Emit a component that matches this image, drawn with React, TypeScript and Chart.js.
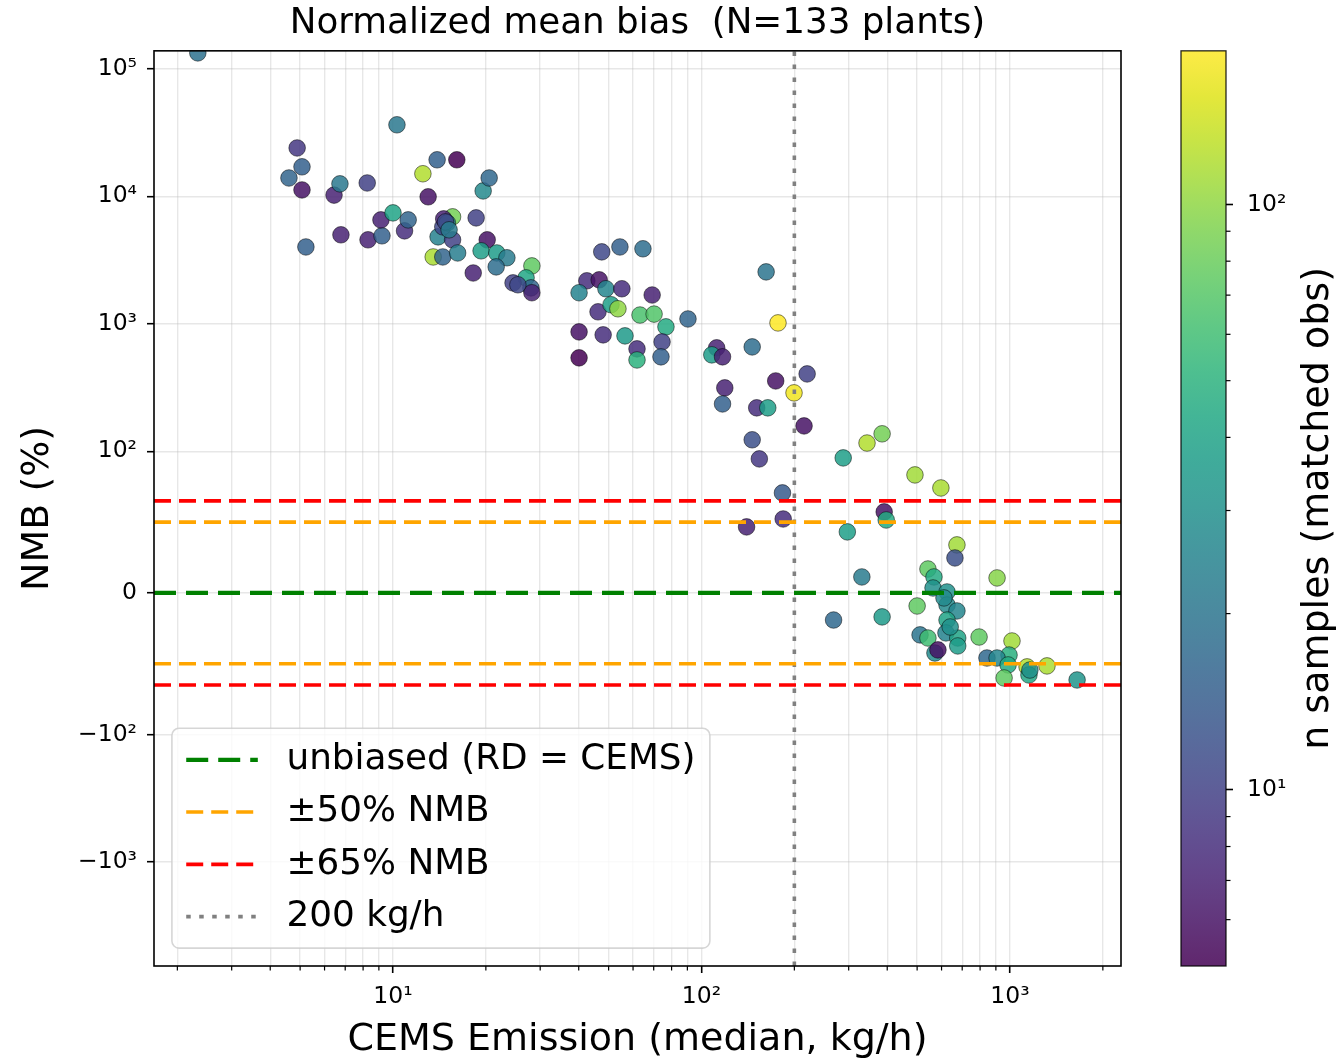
import React, { useEffect, useRef } from "react";
import { Chart, registerables, Scale } from "chart.js";

const FONT = "'DejaVu Sans', 'Noto Sans', sans-serif";

// ---------------- data ----------------
// CEMS median emission per plant (kg/h)
const emission: number[] = [
  2.33, 4.89, 5.07, 4.6, 5.07, 5.22, 6.44, 6.73, 6.78, 8.25,
  8.3, 9.21, 9.14, 10.0, 10.3, 10.9, 11.2, 12.5, 13.0, 13.9,
  16.1, 13.5, 14.5, 14.0, 14.5, 15.6, 14.6, 15.0, 15.6, 16.2,
  18.6, 18.2, 19.6, 20.5, 20.2, 19.3, 21.7, 23.4, 21.6, 28.2,
  27.0, 24.5, 28.0, 28.2, 25.4, 47.5, 54.4, 64.6, 42.5, 46.6,
  40.1, 49.0, 55.2, 69.2, 46.2, 50.9, 53.6, 63.2, 70.2, 76.7,
  90.4, 40.1, 48.0, 56.5, 74.5, 61.8, 61.8, 73.9, 40.1, 112,
  108, 117, 177, 146, 220, 174, 119, 199.5, 117, 151,
  164, 215, 146, 154, 183, 184, 140, 288, 162, 344,
  385, 492, 597, 391, 397, 297, 673, 663, 331, 542,
  567, 908, 563, 625, 500, 625, 673, 268, 385, 625,
  511, 542, 620, 677, 794, 677, 1015, 571, 584, 993,
  842, 908, 986, 1136, 1318, 1152, 957, 1650, 14.8, 15.2,
  611, 640, 1160,
];
// Normalized mean bias (%)
const nmb: number[] = [
  133000, 23900, 17000, 13900, 11200, 4000, 10200, 12500, 4980, 12700,
  4550, 4890, 6520, 7400, 36300, 5350, 6520, 15000, 9890, 19300,
  19300, 3340, 3340, 4800, 5750, 6890, 6640, 6180, 4550, 3590,
  6760, 2500, 11000, 13900, 4550, 3730, 3590, 3290, 2790, 2840,
  2290, 2090, 1910, 1750, 2020, 3660, 4000, 3870, 2170, 2210,
  1750, 1880, 1880, 1680, 1240, 1410, 1310, 1170, 1190, 945,
  1090, 863, 818, 803, 720, 635, 520, 550, 540, 647,
  570, 550, 1015, 658, 404, 356, 314, 287, 235, 219,
  219, 158, 123, 94.6, 70.6, 52.2, 46.6, 95.3, 2550, 116,
  137, 83.3, 74.1, 57.2, 51.5, 43.1, 33.9, 24.7, 11.3, 16.9,
  11.3, 10.6, 3.5, 0.7, -9.2, -8.5, -12.7, -19.1, -16.9, -19.1,
  -29.6, -31.8, -28.2, -31.8, -31.1, -37.4, -33.9, -42.4, -40.2, -43.8,
  -45.9, -45.9, -50.8, -52.2, -51.5, -57.9, -60.0, -61.4, 6290, 5450,
  -3.5, -24, -54.4,
];
// matched observations per plant
const nSamples: number[] = [
  19, 9, 15, 16, 6, 15, 7, 21, 7, 10,
  7, 15, 7, 40, 21, 8, 16, 120, 6, 15,
  5, 115, 16, 24, 11, 85, 7, 21, 10, 23,
  10, 7, 27, 17, 6, 38, 36, 22, 18, 75,
  42, 10, 16, 7, 11, 11, 15, 18, 8, 6,
  25, 26, 8, 7, 8, 38, 100, 65, 68, 45,
  16, 6, 8, 35, 10, 8, 50, 15, 5, 7,
  36, 7, 183, 18, 10, 6, 7, 170, 15, 8,
  38, 6, 12, 9, 14, 8, 7, 38, 20, 120,
  85, 110, 115, 6, 45, 38, 110, 12, 22, 75,
  45, 95, 30, 30, 75, 28, 26, 17, 35, 40,
  20, 60, 25, 40, 75, 36, 110, 28, 6, 48,
  17, 26, 45, 120, 115, 42, 75, 32, 11, 22,
  28, 30, 30,
];

const xLimits = [1.68, 2290];
const yLimits = [-6520, 138000];
const yTicks = [-1000, -100, 0, 100, 1000, 10000, 100000];
const xMajorTicks = [10, 100, 1000];
const xMinorTicks = [2, 3, 4, 5, 6, 7, 8, 9, 20, 30, 40, 50, 60, 70, 80, 90, 200, 300, 400, 500, 600, 700, 800, 900, 2000];
const cbMajorTicks = [10, 100];
const cbMinorTicks = [6, 7, 8, 9, 20, 30, 40, 50, 60, 70, 80, 90];
const unbiasedLevel = 0;
const nmbBand50 = 50;
const nmbBand65 = 65;
const thresholdEmission = 200;
const legendLabels = ["unbiased (RD = CEMS)", "±50% NMB", "±65% NMB", "200 kg/h"];
const titleText = "Normalized mean bias  (N=133 plants)";

// ---------------- colour map ----------------
const VIRIDIS = [
  "#440154", "#471365", "#482475", "#463480", "#414487", "#3b528b", "#355f8d",
  "#2f6c8e", "#2a788e", "#25848e", "#21918c", "#1e9c89", "#22a884", "#2fb47c",
  "#44bf70", "#5ec962", "#7ad151", "#9bd93c", "#bddf26", "#dfe318", "#fde725",
];
const hexRgb = (h: string) => [1, 3, 5].map((i) => parseInt(h.slice(i, i + 2), 16));
function viridis(f: number, a: number) {
  const ff = Math.max(0, Math.min(1, f));
  const p = ff * (VIRIDIS.length - 1);
  const i = Math.min(Math.floor(p), VIRIDIS.length - 2);
  const t = p - i;
  const c0 = hexRgb(VIRIDIS[i]);
  const c1 = hexRgb(VIRIDIS[i + 1]);
  const c = c0.map((v, k) => Math.round(v + (c1[k] - v) * t));
  return `rgba(${c[0]},${c[1]},${c[2]},${a})`;
}
const nMin = Math.min(...nSamples);
const nMax = Math.max(...nSamples);
const normN = (n: number) => (Math.log(n) - Math.log(nMin)) / (Math.log(nMax) - Math.log(nMin));
const ALPHA = 0.85;

// ---------------- symlog scale (matplotlib style, base 10) ----------------
const LINTHRESH = 100;
const LINSCALE = 1 / (1 - 1 / 10);
const symT = (v: number) => {
  const a = Math.abs(v);
  return a <= LINTHRESH ? (v / LINTHRESH) * LINSCALE : Math.sign(v) * (LINSCALE + Math.log10(a / LINTHRESH));
};
const symInv = (t: number) => {
  const a = Math.abs(t);
  return a <= LINSCALE ? (t / LINSCALE) * LINTHRESH : Math.sign(t) * LINTHRESH * Math.pow(10, a - LINSCALE);
};

class SymlogScale extends (Scale as any) {
  static id = "symlog";
  static defaults = {};
  parse(raw: any) {
    if (raw === null || raw === undefined) return null;
    const v = Number(raw);
    return Number.isFinite(v) ? v : null;
  }
  determineDataLimits() {
    const mm = this.getMinMax(false);
    const o: any = this.options;
    this.min = typeof o.min === "number" ? o.min : mm.min;
    this.max = typeof o.max === "number" ? o.max : mm.max;
  }
  buildTicks() {
    return yTicks.map((v) => ({ value: v }));
  }
  getLabelForValue(v: number) {
    return String(v);
  }
  configure() {
    super.configure();
    this._tMin = symT(this.min);
    this._tMax = symT(this.max);
  }
  getPixelForValue(v: number) {
    if (v === null || v === undefined || isNaN(v)) return NaN;
    return this.getPixelForDecimal((symT(v) - this._tMin) / (this._tMax - this._tMin));
  }
  getValueForPixel(p: number) {
    return symInv(this._tMin + this.getDecimalForPixel(p) * (this._tMax - this._tMin));
  }
}

Chart.register(...registerables, SymlogScale as any);

const SUP = "⁰¹²³⁴⁵⁶⁷⁸⁹";
function powLabel(v: number) {
  if (v === 0) return "0";
  const e = Math.round(Math.log10(Math.abs(v)));
  const s = String(e).split("").map((d) => SUP[+d]).join("");
  return (v < 0 ? "\u2212" : "") + "10" + s;
}

const TICK_FONT = { family: FONT, size: 23.5 };
const GRID = "rgba(176,176,176,0.3)";
const LEG_FS = 35.8;

function roundRectPath(ctx: CanvasRenderingContext2D, x: number, y: number, w: number, h: number, r: number) {
  ctx.beginPath();
  ctx.moveTo(x + r, y);
  ctx.lineTo(x + w - r, y);
  ctx.arcTo(x + w, y, x + w, y + r, r);
  ctx.lineTo(x + w, y + h - r);
  ctx.arcTo(x + w, y + h, x + w - r, y + h, r);
  ctx.lineTo(x + r, y + h);
  ctx.arcTo(x, y + h, x, y + h - r, r);
  ctx.lineTo(x, y + r);
  ctx.arcTo(x, y, x + r, y, r);
  ctx.closePath();
}

const decorPlugin = {
  id: "decor",
  afterDraw(chart: any) {
    const ctx: CanvasRenderingContext2D = chart.ctx;
    const area = chart.chartArea;
    const xs = chart.scales.x;
    const cb = chart.scales.cb;
    ctx.save();

    // minor x ticks
    ctx.strokeStyle = "#000";
    ctx.lineWidth = 1.2;
    for (const v of xMinorTicks) {
      const px = xs.getPixelForValue(v);
      if (px < area.left - 0.5 || px > area.right + 0.5) continue;
      ctx.beginPath();
      ctx.moveTo(px, area.bottom);
      ctx.lineTo(px, area.bottom + 4.5);
      ctx.stroke();
    }

    // axes frame
    ctx.lineWidth = 1.6;
    ctx.strokeStyle = "#000";
    ctx.strokeRect(area.left, area.top, area.right - area.left, area.bottom - area.top);

    // colorbar
    const cbW = 45;
    const cbX = cb.left - cbW;
    const grad = ctx.createLinearGradient(0, cb.bottom, 0, cb.top);
    const steps = 40;
    for (let k = 0; k <= steps; k++) {
      const f = k / steps;
      const v = Math.exp(Math.log(nMin) + f * (Math.log(nMax) - Math.log(nMin)));
      const py = cb.getPixelForValue(v);
      const off = Math.max(0, Math.min(1, (cb.bottom - py) / (cb.bottom - cb.top)));
      grad.addColorStop(off, viridis(normN(v), ALPHA));
    }
    ctx.fillStyle = grad;
    ctx.fillRect(cbX, cb.top, cbW, cb.bottom - cb.top);
    ctx.strokeStyle = "rgba(0,0,0,0.85)";
    ctx.lineWidth = 1.3;
    ctx.strokeRect(cbX, cb.top, cbW, cb.bottom - cb.top);
    // colorbar minor ticks
    ctx.strokeStyle = "#000";
    ctx.lineWidth = 1.2;
    for (const v of cbMinorTicks) {
      const py = cb.getPixelForValue(v);
      ctx.beginPath();
      ctx.moveTo(cb.left, py);
      ctx.lineTo(cb.left + 4.5, py);
      ctx.stroke();
    }
    // colorbar label
    ctx.save();
    ctx.translate(cb.right - 21, (cb.top + cb.bottom) / 2);
    ctx.rotate(-Math.PI / 2);
    ctx.fillStyle = "#000";
    ctx.font = `38px ${FONT}`;
    ctx.textAlign = "center";
    ctx.textBaseline = "middle";
    ctx.fillText("n samples (matched obs)", 0, 0);
    ctx.restore();

    // legend (matplotlib geometry, in font-size units)
    const items = chart.data.datasets.filter((d: any) => d.type === "line");
    const pad = 0.4 * LEG_FS, hl = 2 * LEG_FS, htp = 0.8 * LEG_FS, ls = 0.5 * LEG_FS, bap = 0.5 * LEG_FS;
    const rowH = 0.96 * LEG_FS;
    ctx.font = `${LEG_FS}px ${FONT}`;
    const textW = Math.max(...items.map((d: any) => ctx.measureText(d.label).width));
    const w = 2 * pad + hl + htp + textW;
    const h = 2 * pad + items.length * rowH + (items.length - 1) * ls;
    const x0 = area.left + bap;
    const y0 = area.bottom - bap - h;
    roundRectPath(ctx, x0, y0, w, h, 0.2 * LEG_FS);
    ctx.fillStyle = "rgba(255,255,255,0.8)";
    ctx.fill();
    ctx.strokeStyle = "rgba(204,204,204,0.8)";
    ctx.lineWidth = 1.6;
    ctx.stroke();
    items.forEach((d: any, i: number) => {
      const cy = y0 + pad + rowH / 2 + i * (rowH + ls);
      ctx.save();
      ctx.setLineDash(d.borderDash || []);
      ctx.strokeStyle = d.borderColor;
      ctx.lineWidth = d.borderWidth;
      ctx.lineCap = "butt";
      ctx.beginPath();
      ctx.moveTo(x0 + pad, cy);
      ctx.lineTo(x0 + pad + hl, cy);
      ctx.stroke();
      ctx.restore();
      ctx.fillStyle = "#000";
      ctx.textBaseline = "middle";
      ctx.textAlign = "left";
      ctx.fillText(d.label, x0 + pad + hl + htp, cy);
    });

    ctx.restore();
  },
};

function hline(level: number, both: boolean) {
  const pts: any[] = [
    { x: xLimits[0], y: level },
    { x: xLimits[1], y: level },
  ];
  if (both) {
    pts.push({ x: xLimits[1], y: null });
    pts.push({ x: xLimits[0], y: -level });
    pts.push({ x: xLimits[1], y: -level });
  }
  return pts;
}

export default function App() {
  const ref = useRef<HTMLCanvasElement>(null);
  useEffect(() => {
    document.body.style.margin = "0";
    const points = emission.map((x, i) => ({ x, y: nmb[i] }));
    const colors = nSamples.map((n) => viridis(normN(n), ALPHA));
    const lineCommon = {
      type: "line",
      pointRadius: 0,
      pointHitRadius: 0,
      fill: false,
      tension: 0,
      spanGaps: false,
      borderCapStyle: "butt",
      clip: 0,
      order: 0,
      xAxisID: "x",
      yAxisID: "y",
    };
    const chart = new Chart(ref.current as HTMLCanvasElement, {
      type: "scatter",
      data: {
        datasets: [
          { ...lineCommon, label: legendLabels[0], data: hline(unbiasedLevel, false), borderColor: "green", borderWidth: 4.2, borderDash: [22, 10] },
          { ...lineCommon, label: legendLabels[1], data: hline(nmbBand50, true), borderColor: "orange", borderWidth: 3.6, borderDash: [17, 8] },
          { ...lineCommon, label: legendLabels[2], data: hline(nmbBand65, true), borderColor: "red", borderWidth: 3.6, borderDash: [17, 8] },
          {
            ...lineCommon,
            label: legendLabels[3],
            data: [
              { x: thresholdEmission, y: yLimits[0] },
              { x: thresholdEmission, y: yLimits[1] },
            ],
            borderColor: "gray",
            borderWidth: 3.6,
            borderDash: [4.5, 8.5],
          },
          {
            type: "scatter",
            label: "plants",
            data: points,
            backgroundColor: colors,
            borderColor: "rgba(0,0,0,0.55)",
            borderWidth: 0.9,
            pointRadius: 8.3,
            pointHoverRadius: 8.3,
            clip: 0,
            order: 1,
            xAxisID: "x",
            yAxisID: "y",
          },
        ] as any,
      },
      options: {
        responsive: false,
        maintainAspectRatio: false,
        animation: false,
        devicePixelRatio: 1,
        events: [],
        layout: { padding: 0 },
        plugins: {
          legend: { display: false },
          tooltip: { enabled: false },
          title: {
            display: true,
            text: titleText,
            fullSize: false,
            color: "#000",
            font: { family: FONT, size: 35.7, weight: "normal", lineHeight: 1.2 },
            padding: { top: 2, bottom: 6 },
          },
        },
        scales: {
          x: {
            type: "logarithmic",
            position: "bottom",
            min: xLimits[0],
            max: xLimits[1],
            afterBuildTicks: (s: any) => {
              s.ticks = [...xMajorTicks, ...xMinorTicks]
                .sort((a, b) => a - b)
                .map((v) => ({ value: v, major: xMajorTicks.includes(v) }));
            },
            afterFit: (s: any) => {
              s.height = 95;
            },
            ticks: {
              autoSkip: false,
              maxRotation: 0,
              minRotation: 0,
              padding: 10,
              color: "#000",
              font: TICK_FONT,
              callback: (v: any) => (xMajorTicks.includes(Number(v)) ? powLabel(Number(v)) : ""),
            },
            grid: {
              color: GRID,
              lineWidth: 1.4,
              tickLength: 7,
              tickWidth: 1.6,
              tickColor: (c: any) => (c.tick && c.tick.major ? "#000" : "rgba(0,0,0,0)"),
            },
            border: { display: false },
            title: {
              display: true,
              text: "CEMS Emission (median, kg/h)",
              color: "#000",
              font: { family: FONT, size: 38, lineHeight: 1.1 },
              padding: { top: 0, bottom: 0 },
            },
          },
          y: {
            type: "symlog",
            position: "left",
            min: yLimits[0],
            max: yLimits[1],
            afterFit: (s: any) => {
              s.width = 154;
            },
            ticks: {
              autoSkip: false,
              padding: 10,
              color: "#000",
              font: TICK_FONT,
              callback: (v: any) => powLabel(Number(v)),
            },
            grid: { color: GRID, lineWidth: 1.4, tickLength: 7, tickWidth: 1.6, tickColor: "#000" },
            border: { display: false },
            title: {
              display: true,
              text: "NMB (%)",
              color: "#000",
              font: { family: FONT, size: 38, lineHeight: 1.1 },
              padding: { top: 17, bottom: 0 },
            },
          },
          gap: {
            type: "linear",
            position: "right",
            weight: 1,
            display: true,
            grid: { display: false },
            ticks: { display: false },
            border: { display: false },
            afterFit: (s: any) => {
              s.width = 105;
            },
          },
          cb: {
            type: "logarithmic",
            position: "right",
            weight: 2,
            min: nMin,
            max: nMax,
            afterBuildTicks: (s: any) => {
              s.ticks = [...cbMajorTicks, ...cbMinorTicks]
                .sort((a, b) => a - b)
                .map((v) => ({ value: v, major: cbMajorTicks.includes(v) }));
            },
            afterFit: (s: any) => {
              s.width = 113;
            },
            ticks: {
              autoSkip: false,
              padding: 14,
              color: "#000",
              font: TICK_FONT,
              callback: (v: any) => (cbMajorTicks.includes(Number(v)) ? powLabel(Number(v)) : ""),
            },
            grid: {
              display: true,
              drawOnChartArea: false,
              tickLength: 7,
              tickWidth: 1.6,
              tickColor: (c: any) => (c.tick && c.tick.major ? "#000" : "rgba(0,0,0,0)"),
            },
            border: { display: false },
          },
        } as any,
      },
      plugins: [decorPlugin as any],
    } as any);
    return () => chart.destroy();
  }, []);
  return (
    <div style={{ width: 1339, height: 1061 }}>
      <canvas ref={ref} width={1339} height={1061} style={{ display: "block" }} />
    </div>
  );
}
